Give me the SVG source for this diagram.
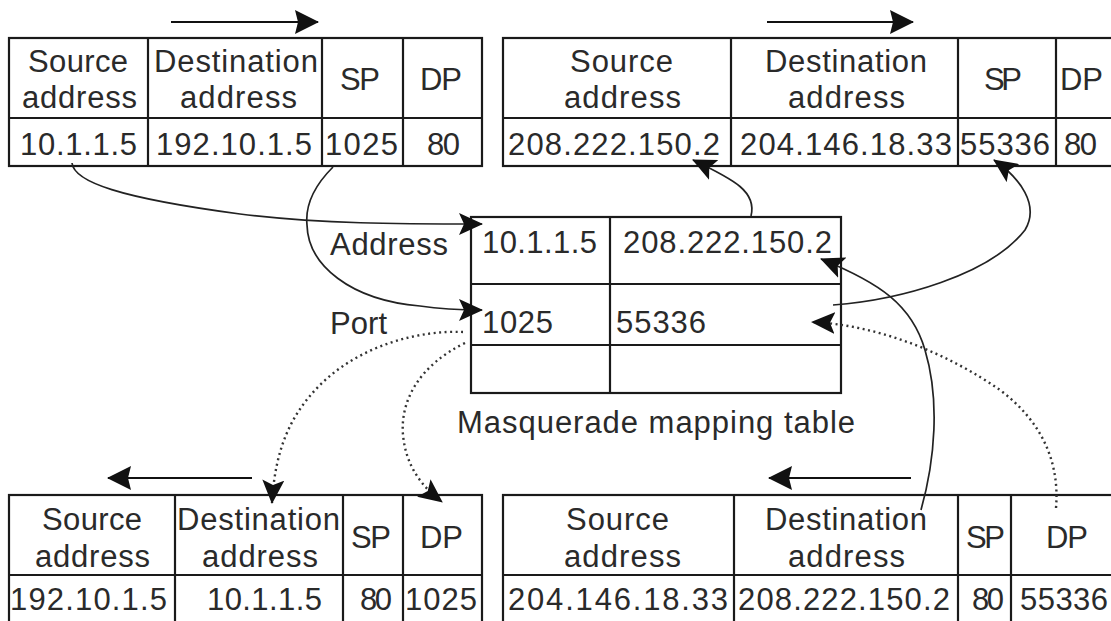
<svg xmlns="http://www.w3.org/2000/svg" width="1111" height="621" viewBox="0 0 1111 621">
<defs>
<style>
.t{font-family:"Liberation Sans",Arial,sans-serif;font-size:31px;fill:#2a2a2a}
.m{text-anchor:middle}
.e{text-anchor:end}
.box{fill:none;stroke:#1a1a1a;stroke-width:2.2}
.ln{stroke:#1a1a1a;stroke-width:2.2}
.c{fill:none;stroke:#222;stroke-width:1.7}
.d{fill:none;stroke:#333;stroke-width:2.4;stroke-dasharray:2 3.5}
.dir{stroke:#111;stroke-width:2.2}
</style>
<marker id="ah" markerUnits="userSpaceOnUse" markerWidth="24" markerHeight="22" refX="23" refY="11" orient="auto" viewBox="0 0 24 22"><path d="M0,0 L24,11 L0,22 L5,11 z" fill="#111"/></marker>
<marker id="ah2" markerUnits="userSpaceOnUse" markerWidth="24" markerHeight="24" refX="23" refY="12" orient="auto" viewBox="0 0 24 24"><path d="M0,0 L24,12 L0,24 L3,12 z" fill="#111"/></marker>
</defs>
<rect width="1111" height="621" fill="#fff"/>

<g id="packet-out-private">
<line class="dir" x1="171" y1="22" x2="318" y2="22" marker-end="url(#ah2)"/>
<rect class="box" x="9" y="38" width="473" height="128"/>
<line class="ln" x1="9" y1="118" x2="482" y2="118"/>
<line class="ln" x1="148" y1="38" x2="148" y2="166"/>
<line class="ln" x1="322" y1="38" x2="322" y2="166"/>
<line class="ln" x1="403" y1="38" x2="403" y2="166"/>
<text class="t" x="28" y="72" textLength="100">Source</text>
<text class="t" x="22" y="108" textLength="115">address</text>
<text class="t" x="154" y="72" textLength="164">Destination</text>
<text class="t" x="180" y="108" textLength="117">address</text>
<text class="t" x="340" y="90" textLength="40">SP</text>
<text class="t" x="420" y="90" textLength="42">DP</text>
<text class="t" x="20" y="155" textLength="117">10.1.1.5</text>
<text class="t" x="156" y="155" textLength="156">192.10.1.5</text>
<text class="t" x="325" y="155" textLength="73">1025</text>
<text class="t" x="427" y="155" textLength="33">80</text>
</g>

<g id="packet-out-public">
<line class="dir" x1="767" y1="22" x2="913" y2="22" marker-end="url(#ah2)"/>
<rect class="box" x="503" y="38" width="640" height="128"/>
<line class="ln" x1="503" y1="118" x2="1143" y2="118"/>
<line class="ln" x1="731" y1="38" x2="731" y2="166"/>
<line class="ln" x1="958" y1="38" x2="958" y2="166"/>
<line class="ln" x1="1056" y1="38" x2="1056" y2="166"/>
<text class="t" x="570" y="72" textLength="103">Source</text>
<text class="t" x="564" y="108" textLength="117">address</text>
<text class="t" x="765" y="72" textLength="162">Destination</text>
<text class="t" x="788" y="108" textLength="117">address</text>
<text class="t" x="984" y="90" textLength="38">SP</text>
<text class="t" x="1060" y="90" textLength="43">DP</text>
<text class="t" x="508" y="155" textLength="212">208.222.150.2</text>
<text class="t" x="740" y="155" textLength="212">204.146.18.33</text>
<text class="t" x="960" y="155" textLength="90">55336</text>
<text class="t" x="1064" y="155" textLength="33">80</text>
</g>

<g id="masquerade-table">
<rect class="box" x="471" y="217" width="370" height="176"/>
<line class="ln" x1="471" y1="284" x2="841" y2="284"/>
<line class="ln" x1="471" y1="345" x2="841" y2="345"/>
<line class="ln" x1="610" y1="217" x2="610" y2="393"/>
<text class="t e" x="448" y="255" textLength="118">Address</text>
<text class="t" x="330" y="334" textLength="57">Port</text>
<text class="t" x="482" y="253" textLength="115">10.1.1.5</text>
<text class="t" x="623" y="253" textLength="209">208.222.150.2</text>
<text class="t" x="482" y="333" textLength="71">1025</text>
<text class="t" x="616" y="333" textLength="90">55336</text>
<text class="t" x="457" y="433" textLength="398">Masquerade mapping table</text>
</g>

<g id="packet-in-private">
<line class="dir" x1="252" y1="478" x2="108" y2="478" marker-end="url(#ah2)"/>
<rect class="box" x="9" y="495" width="473" height="150"/>
<line class="ln" x1="9" y1="575" x2="482" y2="575"/>
<line class="ln" x1="175" y1="495" x2="175" y2="645"/>
<line class="ln" x1="343" y1="495" x2="343" y2="645"/>
<line class="ln" x1="403" y1="495" x2="403" y2="645"/>
<text class="t" x="42" y="530" textLength="100">Source</text>
<text class="t" x="35" y="567" textLength="115">address</text>
<text class="t" x="177" y="530" textLength="163">Destination</text>
<text class="t" x="202" y="567" textLength="116">address</text>
<text class="t" x="351" y="548" textLength="40">SP</text>
<text class="t" x="420" y="548" textLength="43">DP</text>
<text class="t" x="10" y="610" textLength="157">192.10.1.5</text>
<text class="t" x="207" y="610" textLength="115">10.1.1.5</text>
<text class="t" x="360" y="610" textLength="32">80</text>
<text class="t" x="405" y="610" textLength="72">1025</text>
</g>

<g id="packet-in-public">
<line class="dir" x1="911" y1="478" x2="769" y2="478" marker-end="url(#ah2)"/>
<rect class="box" x="503" y="495" width="640" height="150"/>
<line class="ln" x1="503" y1="575" x2="1143" y2="575"/>
<line class="ln" x1="734" y1="495" x2="734" y2="645"/>
<line class="ln" x1="958" y1="495" x2="958" y2="645"/>
<line class="ln" x1="1011" y1="495" x2="1011" y2="645"/>
<text class="t" x="566" y="530" textLength="103">Source</text>
<text class="t" x="564" y="567" textLength="117">address</text>
<text class="t" x="765" y="530" textLength="162">Destination</text>
<text class="t" x="788" y="567" textLength="117">address</text>
<text class="t" x="966" y="548" textLength="39">SP</text>
<text class="t" x="1046" y="548" textLength="42">DP</text>
<text class="t" x="508" y="610" textLength="220">204.146.18.33</text>
<text class="t" x="738" y="610" textLength="212">208.222.150.2</text>
<text class="t" x="972" y="610" textLength="32">80</text>
<text class="t" x="1020" y="610" textLength="88">55336</text>
</g>

<g id="connectors">
<path class="c" d="M72,163 C74,182 120,198 240,214 C320,224 400,224 482,224" marker-end="url(#ah)"/>
<path class="c" d="M333,167 C315,185 305,205 307,225 C308,265 350,300 420,306 C440,309 460,310 482,310" marker-end="url(#ah)"/>
<path class="c" d="M751,216 C757,192 735,180 693,160" marker-end="url(#ah)"/>
<path class="c" d="M833,305 C900,300 990,275 1025,230 C1040,205 1020,178 994,160" marker-end="url(#ah)"/>
<path class="c" d="M921,510 C935,460 940,400 925,350 C912,305 880,283 821,259" marker-end="url(#ah)"/>
<path class="d" d="M1056,508 C1060,460 1040,420 1000,390 C950,355 880,325 812,322" marker-end="url(#ah)"/>
<path class="d" d="M463,332 C420,330 360,345 320,385 C290,415 275,450 272,503" marker-end="url(#ah)"/>
<path class="d" d="M465,343 C420,365 400,400 403,435 C406,465 420,485 442,502" marker-end="url(#ah)"/>
</g>
</svg>
